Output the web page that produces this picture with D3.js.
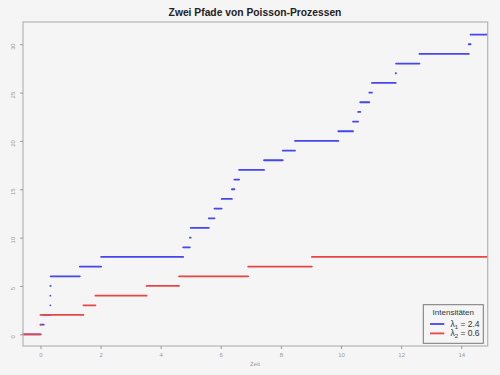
<!DOCTYPE html>
<html>
<head>
<meta charset="utf-8">
<script src="https://cdn.jsdelivr.net/npm/d3@7"></script>
<style>
  body { margin: 0; background: #f5f5f5; }
  text { font-family: "Liberation Sans", Arial, sans-serif; }
</style>
</head>
<body>
<script>
// jump times of the two paths (level k starts at the k-th time)
var blueTimes = [0.01, 0.11, 0.33, 0.33, 0.33, 0.34, 1.31, 2.02, 4.75, 4.97, 5.0, 5.60, 5.79, 6.03,
                 6.37, 6.45, 6.61, 7.44, 8.06, 8.47, 9.91, 10.40, 10.57, 10.64, 10.94, 11.03,
                 11.82, 11.83, 12.61, 14.25, 14.31];
var redTimes = [0.0, 0.0, 1.43, 1.83, 3.53, 4.61, 6.91, 9.03];

var xTicks = [0, 2, 4, 6, 8, 10, 12, 14];
var yTicks = [0, 5, 10, 15, 20, 25, 30];
var legendLabels = [["1", "2.4"], ["2", "0.6"]];

var svgWidth = 500;
var svgHeight = 375;
var blue = "#4646ee";
var red = "#e84646";

var svg = d3.select("body")
    .append("svg")
    .attr("width", svgWidth)
    .attr("height", svgHeight);

svg.append("rect")
    .attr("width", svgWidth)
    .attr("height", svgHeight)
    .attr("fill", "#f5f5f5");

var x = d3.scaleLinear().domain([-0.58, 14.88]).range([23, 487.7]);
var y = d3.scaleLinear().domain([-1.21, 32.3]).range([346, 22]);

//turn jump times into horizontal pieces
function steps(times) {
    var out = [];
    for (var k = 0; k <= times.length; k++) {
        out.push({
            level: k,
            start: k == 0 ? x.domain()[0] : times[k - 1],
            end: k == times.length ? x.domain()[1] : times[k]
        });
    }
    return out;
}

svg.append("clipPath").attr("id", "clip")
    .append("rect")
    .attr("x", 21).attr("y", 22)
    .attr("width", 487.7 - 21).attr("height", 346 - 22);

var plot = svg.append("g").attr("clip-path", "url(#clip)");

[[blueTimes, blue], [redTimes, red]].forEach(function(p) {
    plot.append("g")
        .selectAll("line")
        .data(steps(p[0]))
        .enter()
        .append("line")
        .attr("x1", function(d) { return x(d.start); })
        .attr("x2", function(d) { return x(d.end); })
        .attr("y1", function(d) { return y(d.level); })
        .attr("y2", function(d) { return y(d.level); })
        .style("stroke", p[1])
        .style("stroke-width", 1.8)
        .style("stroke-linecap", "round");
});

//box
svg.append("rect")
    .attr("x", 23).attr("y", 22)
    .attr("width", 487.7 - 23).attr("height", 346 - 22)
    .attr("fill", "none")
    .attr("stroke", "#b4b4b4")
    .attr("stroke-width", 1.2);

var xAxis = svg.append("g")
    .attr("transform", "translate(0,346)")
    .call(d3.axisBottom(x).tickValues(xTicks).tickSize(3).tickPadding(4));
var yAxis = svg.append("g")
    .attr("transform", "translate(23,0)")
    .call(d3.axisLeft(y).tickValues(yTicks).tickSize(3).tickPadding(4));

[xAxis, yAxis].forEach(function(a) {
    a.select(".domain").remove();
    a.selectAll(".tick line").attr("stroke", "#999");
    a.selectAll(".tick text")
        .attr("fill", "#999")
        .style("font-size", "6px")
        .style("font-family", "Liberation Sans, Arial, sans-serif");
});

yAxis.selectAll(".tick text")
    .attr("x", null).attr("dy", null)
    .attr("text-anchor", "middle")
    .attr("transform", "translate(-8,2) rotate(-90)");

svg.append("text")
    .attr("x", 255).attr("y", 366)
    .attr("text-anchor", "middle")
    .attr("fill", "#999")
    .style("font-size", "6px")
    .text("Zeit");

svg.append("text")
    .attr("x", 255).attr("y", 15.7)
    .attr("text-anchor", "middle")
    .attr("fill", "#222")
    .style("font-size", "10.3px")
    .style("font-weight", "bold")
    .text("Zwei Pfade von Poisson-Prozessen");

//legend
var leg = svg.append("g");
leg.append("rect")
    .attr("x", 423.3).attr("y", 304.7)
    .attr("width", 60).attr("height", 38.6)
    .attr("fill", "#f5f5f5")
    .attr("stroke", "#777")
    .attr("stroke-width", 1);
leg.append("text")
    .attr("x", 453.3).attr("y", 314.5)
    .attr("text-anchor", "middle")
    .attr("fill", "#333")
    .style("font-size", "8px")
    .text("Intensitäten");

var rows = leg.selectAll("g.row")
    .data(legendLabels)
    .enter()
    .append("g")
    .attr("class", "row")
    .attr("transform", function(d, i) { return "translate(0," + (324 + i * 9.4) + ")"; });

rows.append("line")
    .attr("x1", 430).attr("x2", 444.3)
    .style("stroke", function(d, i) { return i == 0 ? blue : red; })
    .style("stroke-width", 1.8);

var lt = rows.append("text")
    .attr("x", 450.5).attr("y", 3)
    .attr("fill", "#333")
    .style("font-size", "8.5px");
lt.append("tspan").text("λ");
lt.append("tspan").attr("dy", 2).style("font-size", "6px").text(function(d) { return d[0]; });
lt.append("tspan").attr("dy", -2).text(function(d) { return " = " + d[1]; });
</script>
</body>
</html>
